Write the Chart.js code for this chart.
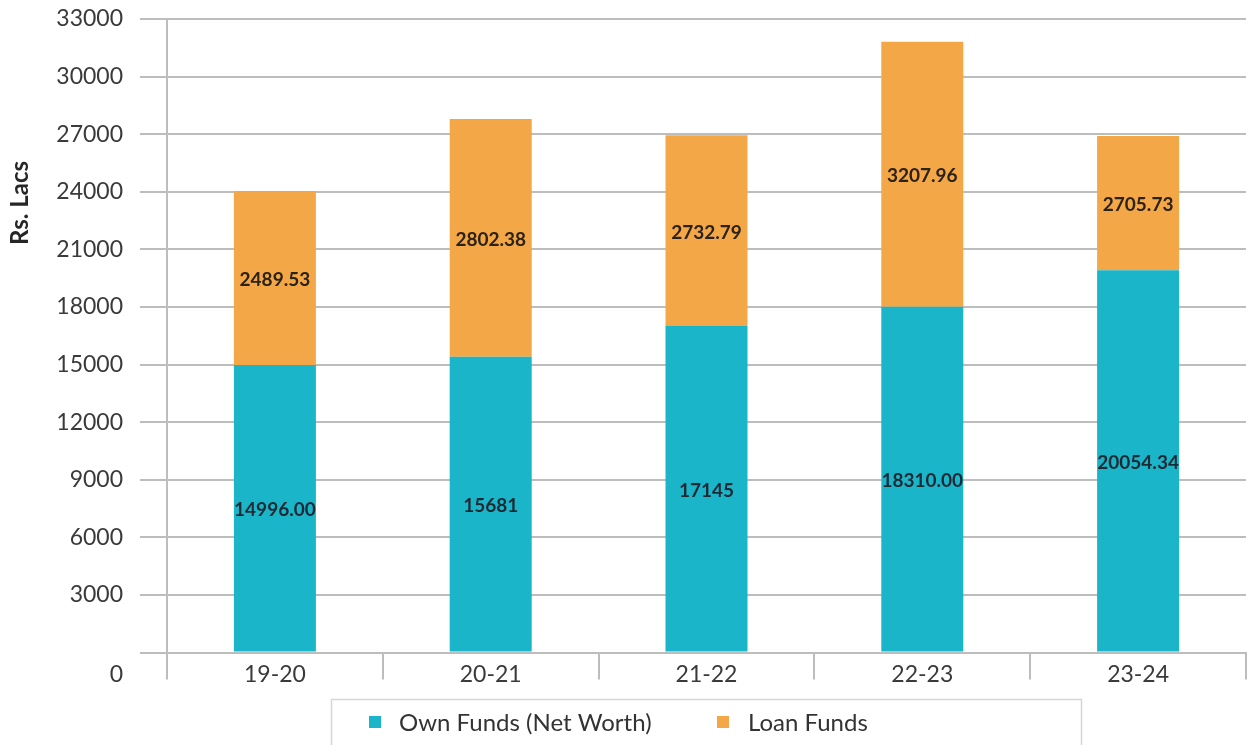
<!DOCTYPE html>
<html>
<head>
<meta charset="utf-8">
<script src="https://cdn.jsdelivr.net/npm/chart.js@4.4.1/dist/chart.umd.min.js"></script>
<style>
html,body{margin:0;padding:0;background:#ffffff;}
#wrap{width:1247px;height:745px;position:relative;overflow:hidden;}
</style>
</head>
<body>
<div id="wrap"><canvas id="c" width="1247" height="745"></canvas></div>
<script>
// ---- data ----
const categories = ['19-20', '20-21', '21-22', '22-23', '23-24'];
// drawn bar heights as they appear on the axis
const ownFunds  = [14980, 15410, 17010, 18010, 19910];
const loanFunds = [9060, 12380, 9940, 13810, 7000];
// printed value labels
const ownLabels  = ['14996.00', '15681', '17145', '18310.00', '20054.34'];
const loanLabels = ['2489.53', '2802.38', '2732.79', '3207.96', '2705.73'];
const seriesNames = ['Own Funds (Net Worth)', 'Loan Funds'];
const yMin = 0, yMax = 33000, yStep = 3000;
const yTitle = 'Rs. Lacs';

const FONT = 'Lato';
const GRID = '#bdbdbd';
const TEAL = '#1bb5ca';
const ORANGE = '#f4a746';

const valueLabels = {
  id: 'valueLabels',
  afterDatasetsDraw(chart) {
    const ctx = chart.ctx;
    ctx.save();
    ctx.font = 'bold 19px ' + FONT;
    ctx.textAlign = 'center';
    ctx.textBaseline = 'middle';
    chart.data.datasets.forEach((ds, di) => {
      const meta = chart.getDatasetMeta(di);
      const labels = di === 0 ? ownLabels : loanLabels;
      ctx.fillStyle = di === 0 ? '#1d2a34' : '#2b2218';
      meta.data.forEach((el, i) => {
        ctx.fillText(labels[i], el.x, (el.y + el.base) / 2 + 2);
      });
    });
    ctx.restore();
  }
};

const extras = {
  id: 'extras',
  afterDraw(chart) {
    const ctx = chart.ctx;
    ctx.save();
    // y axis title
    ctx.translate(20, 203);
    ctx.rotate(-Math.PI / 2);
    ctx.font = 'bold 24px ' + FONT;
    ctx.fillStyle = '#262626';
    ctx.textAlign = 'center';
    ctx.textBaseline = 'middle';
    ctx.fillText(yTitle, 0, 0);
    ctx.restore();

    // legend box
    ctx.save();
    ctx.strokeStyle = '#d6d6d6';
    ctx.lineWidth = 1.5;
    ctx.strokeRect(331.5, 699.5, 750, 70);
    const items = [
      {x: 369, tx: 399, color: chart.data.datasets[0].backgroundColor, text: chart.data.datasets[0].label},
      {x: 717, tx: 748, color: chart.data.datasets[1].backgroundColor, text: chart.data.datasets[1].label}
    ];
    ctx.font = '24px ' + FONT;
    ctx.textBaseline = 'middle';
    ctx.textAlign = 'left';
    items.forEach(it => {
      ctx.fillStyle = it.color;
      ctx.fillRect(it.x, 716, 12, 12);
      ctx.fillStyle = '#333333';
      ctx.fillText(it.text, it.tx, 723);
    });
    ctx.restore();
  }
};

new Chart(document.getElementById('c').getContext('2d'), {
  type: 'bar',
  data: {
    labels: categories,
    datasets: [
      {label: seriesNames[0], data: ownFunds, backgroundColor: TEAL, borderWidth: 0},
      {label: seriesNames[1], data: loanFunds, backgroundColor: ORANGE, borderWidth: 0}
    ]
  },
  options: {
    responsive: false,
    animation: false,
    devicePixelRatio: 1,
    categoryPercentage: 1,
    barPercentage: 0.38,
    layout: {padding: {top: 19, right: 1, left: 0, bottom: 0}},
    plugins: {legend: {display: false}, tooltip: {enabled: false}},
    scales: {
      x: {
        stacked: true,
        grid: {display: true, drawOnChartArea: false, drawTicks: true, tickLength: 27, color: GRID, lineWidth: 2, offset: true},
        border: {display: true, color: GRID, width: 2},
        ticks: {font: {family: FONT, size: 23}, color: '#3a3a3a', padding: -19, maxRotation: 0, autoSkip: false},
        afterFit(s) { s.height = 92.5; s.paddingLeft = 0; s.paddingRight = 0; }
      },
      y: {
        stacked: true,
        min: yMin, max: yMax,
        ticks: {
          stepSize: yStep,
          autoSkip: false,
          color: '#3a3a3a',
          padding: 17,
          font: (c) => (c.tick && c.tick.value === 0) ? {family: FONT, size: 23, lineHeight: 44 / 23} : {family: FONT, size: 23},
          callback: (v) => v === 0 ? ['', '0'] : String(v)
        },
        grid: {color: GRID, lineWidth: 2, tickLength: 27},
        border: {display: true, color: GRID, width: 2},
        afterFit(s) { s.width = 167; s.paddingTop = 0; s.paddingBottom = 0; }
      }
    }
  },
  plugins: [valueLabels, extras]
});
</script>
</body>
</html>
